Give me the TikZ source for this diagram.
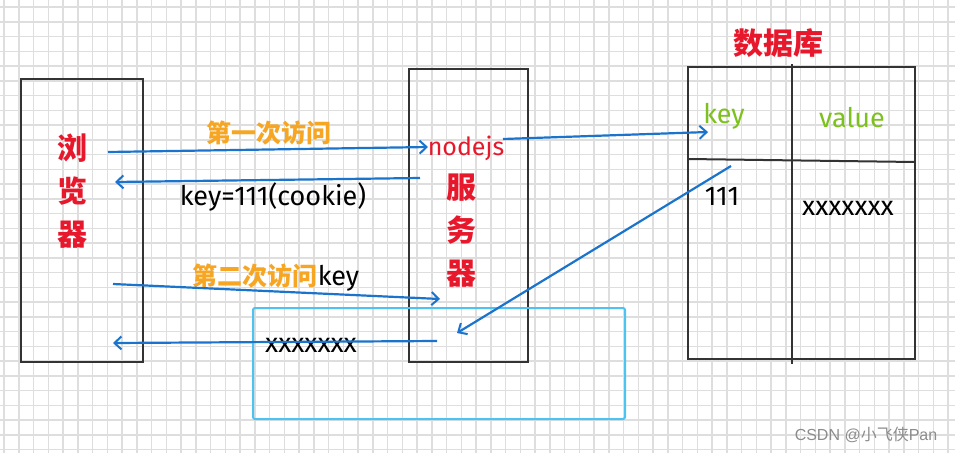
\documentclass[tikz,border=0pt]{standalone}
\usepackage{fontspec}
\usepackage{xcolor}
\usetikzlibrary{arrows.meta,positioning,calc}
\newfontfamily\cjk{Noto Sans CJK SC}
\newfontfamily\hand{Fira Sans}
\newfontfamily\wmark{Liberation Sans}
\definecolor{cred}{HTML}{E8182C}
\definecolor{corange}{HTML}{F6A623}
\definecolor{cgreen}{HTML}{7DC11C}
\definecolor{cblue}{HTML}{1B74CC}
\definecolor{ccyan}{HTML}{4EC3F0}
\definecolor{cgrid}{HTML}{DEDEDE}

\begin{document}
\begin{tikzpicture}[
  x=1pt, y=-1pt,
  every node/.style={inner sep=0pt},
  gridline/.style={draw=cgrid, line width=1.5pt},
  frame/.style={draw=black!80, line width=2pt},
  msg/.style={draw=cblue, line width=2.2pt, -{Straight Barb[length=7pt,width=13pt,line width=2pt]}},
  zhbig/.style={font=\cjk\bfseries\fontsize{30}{43}\selectfont, text=cred, align=center},
  visit/.style={font=\cjk\bfseries\fontsize{25}{30}\selectfont, text=corange},
  hand/.style={font=\hand\fontsize{27}{30}\selectfont},
]
  \useasboundingbox (0,0) rectangle (955,453);
  \fill[white] (0,0) rectangle (955,453);

  % background grid
  \foreach \i in {0,...,64}
    \draw[gridline] ({4+14.75*\i},0) -- ({4+14.75*\i},453);
  \foreach \j in {0,...,30}
    \draw[gridline] (0,{7+14.75*\j}) -- (955,{7+14.75*\j});

  % boxes
  \node[frame, minimum width=122pt, minimum height=283pt] (browser) at (82,220.5) {};
  \node[frame, minimum width=119pt, minimum height=293pt] (server) at (468.5,215.5) {};
  \node[frame, minimum width=227pt, minimum height=292pt] (db) at (801.5,213) {};
  \draw[frame] (792,64) -- (792,364);
  \draw[frame] (688,159) -- (915,162);
  \node[draw=ccyan, line width=2pt, rounded corners=2pt, minimum width=372pt, minimum height=111pt] (reply) at (439,363.5) {};

  % texts
  \node[zhbig] (liulan) at (72,191) {浏\\览\\器};
  \node[zhbig] (fuwu) at (461,231) {服\\务\\器};
  \node[hand, font=\hand\fontsize{25}{28}\selectfont, text=cred] (nodejs) at (466,148) {nodejs};
  \node[zhbig] (dbname) at (778,43) {数据库};
  \node[hand, text=cgreen] (colkey) at (724,116) {key};
  \node[hand, text=cgreen] (colval) at (852,118) {value};
  \node[hand] (rowkey) at (722,196) {111};
  \node[hand] (rowval) at (848,208) {xxxxxxx};

  \node[visit] (first) at (269,133) {第一次访问};
  \node[hand] (cookie) at (273,197) {key=111(cookie)};
  \node[hand] (second) at (276,278) {{\cjk\bfseries\fontsize{25}{30}\selectfont\color{corange}第二次访问}key};
  \node[hand] (result) at (311,345) {xxxxxxx};

  \node[font=\wmark\fontsize{16}{18}\selectfont, text=black!45] (mark) at (866,435) {CSDN @{\cjk 小飞侠}Pan};

  % arrows
  \coordinate (a1s) at (108,152);
  \coordinate (a1e) at (428,147);
  \coordinate (a2s) at (420,178);
  \coordinate (a2e) at (115,182);
  \coordinate (a3s) at (503,139);
  \coordinate (a3e) at (708,132);
  \coordinate (a4s) at (113,284);
  \coordinate (a4e) at (440,299);
  \coordinate (a5s) at (731,166);
  \coordinate (a5e) at (457,333);
  \coordinate (a6s) at (437,341);
  \coordinate (a6e) at (113,343);

  \draw[msg] (a1s) -- (a1e);
  \draw[msg] (a2s) -- (a2e);
  \draw[msg] (a3s) -- (a3e);
  \draw[msg] (a4s) -- (a4e);
  \draw[msg] (a5s) -- (a5e);
  \draw[msg] (a6s) -- (a6e);
\end{tikzpicture}
\end{document}
